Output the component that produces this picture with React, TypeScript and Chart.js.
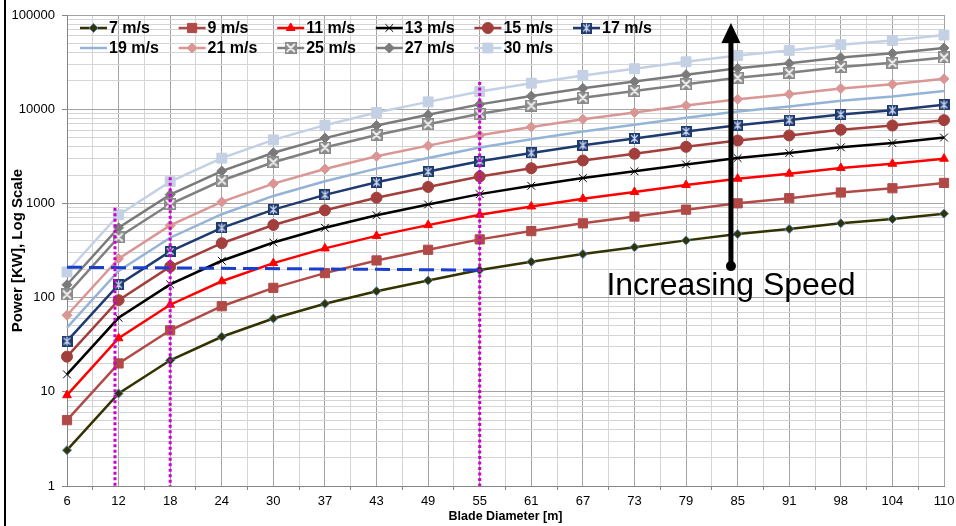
import React, { useEffect, useRef } from 'react';
import { Chart, registerables } from 'chart.js';
import { drawPoint } from 'chart.js/helpers';

Chart.register(...registerables);

// ---------- data ----------
const diameters = ['6', '12', '18', '24', '30', '37', '43', '49', '55', '61', '67', '73', '79', '85', '91', '98', '104', '110'];

const speedLabels = ['7 m/s', '9 m/s', '11 m/s', '13 m/s', '15 m/s', '17 m/s', '19 m/s', '21 m/s', '25 m/s', '27 m/s', '30 m/s'];

const power7 = [2.4, 9.6, 21.6, 38.4, 60, 86, 117, 152, 196, 240, 290, 342, 405, 473, 535, 615, 682, 778];
const power9 = [5.0, 20, 45, 81, 127, 182, 248, 322, 415, 508, 614, 725, 858, 1002, 1135, 1305, 1448, 1650];
const power11 = [9.2, 37, 84, 149, 232, 333, 452, 588, 757, 928, 1120, 1322, 1565, 1828, 2068, 2378, 2636, 2980];
const power13 = [15.3, 61, 138, 246, 384, 551, 749, 974, 1255, 1537, 1857, 2190, 2594, 3030, 3427, 3939, 4368, 5000];
const power15 = [23.6, 94, 213, 378, 590, 846, 1150, 1496, 1929, 2362, 2854, 3365, 3985, 4654, 5264, 6052, 6711, 7655];
const power17 = [34.5, 137, 309, 550, 859, 1232, 1675, 2177, 2807, 3437, 4153, 4897, 5800, 6773, 7661, 8807, 9766, 11141];
const power19 = [48, 192, 432, 768, 1200, 1720, 2340, 3040, 3920, 4800, 5800, 6840, 8100, 9460, 10700, 12300, 13640, 15560];
const power21 = [65, 259, 583, 1037, 1620, 2322, 3159, 4104, 5292, 6480, 7830, 9234, 10935, 12771, 14445, 16605, 18414, 21006];
const power25 = [108, 437, 984, 1749, 2733, 3917, 5329, 6924, 8928, 10932, 13210, 15578, 18448, 21545, 24369, 28013, 31065, 35438];
const power27 = [137, 551, 1240, 2204, 3444, 4936, 6716, 8725, 11250, 13776, 16646, 19631, 23247, 27150, 30709, 35301, 39147, 44657];
const power30 = [187, 756, 1700, 3022, 4722, 6768, 9208, 11962, 15425, 18888, 22823, 26915, 31874, 37225, 42105, 48401, 53673, 61229];

// horizontal dashed reference (from 6 m to 55 m)
const referenceLine = [210, null, null, null, null, null, null, null, 196, null, null, null, null, null, null, null, null, null];

// y-axis decades (labelled ticks)
const yDecades = [1, 10, 100, 1000, 10000, 100000];

// magenta dotted guides: position on the diameter axis (category index) and top value
const guideIndex = [0.93, 2, 8];
const guideTop = [900, 1900, 19500];

// "Increasing Speed" arrow
const arrowIndex = 12.87;
const arrowFrom = 216;
const arrowHeadBase = 50500;
const arrowTip = 82000;
const noteText = 'Increasing Speed';
const noteValue = 107;

const FONT = '"Liberation Sans", Arial, Helvetica, sans-serif';

function makeMarker(size: number, bg: string, fg: string, star: boolean): HTMLCanvasElement {
  const c = document.createElement('canvas');
  c.width = size;
  c.height = size;
  const g = c.getContext('2d')!;
  g.fillStyle = bg;
  g.fillRect(0, 0, size, size);
  g.strokeStyle = fg;
  g.lineWidth = star ? 1.3 : 2;
  g.lineCap = 'round';
  const p = 2.5;
  g.beginPath();
  g.moveTo(p, p);
  g.lineTo(size - p, size - p);
  g.moveTo(size - p, p);
  g.lineTo(p, size - p);
  if (star) {
    g.moveTo(size / 2, 1.5);
    g.lineTo(size / 2, size - 1.5);
  }
  g.stroke();
  return c;
}

export default function App() {
  const ref = useRef<HTMLCanvasElement | null>(null);

  useEffect(() => {
    document.body.style.margin = '0';
    const canvas = ref.current;
    if (!canvas) return;

    const marker17 = makeMarker(11, '#1f3a6e', '#c9d5ee', true);
    const marker25 = makeMarker(12, '#8a8a8a', '#f2f2f2', false);

    const series = [
      { label: speedLabels[0], data: power7, color: '#333300', bg: '#333300', pb: '#4f81bd', style: 'rectRot', r: 4.5, bw: 1 },
      { label: speedLabels[1], data: power9, color: '#b14a47', bg: '#b14a47', pb: '#b14a47', style: 'rect', r: 6.5, bw: 1 },
      { label: speedLabels[2], data: power11, color: '#ff0000', bg: '#ff0000', pb: '#ff0000', style: 'triangle', r: 5, bw: 1 },
      { label: speedLabels[3], data: power13, color: '#000000', bg: '#000000', pb: '#000000', style: 'crossRot', r: 5.5, bw: 1 },
      { label: speedLabels[4], data: power15, color: '#a23f3c', bg: '#a23f3c', pb: '#a23f3c', style: 'circle', r: 5.5, bw: 1 },
      { label: speedLabels[5], data: power17, color: '#1f3a6e', bg: '#1f3a6e', pb: '#1f3a6e', style: marker17, r: 5.5, bw: 1 },
      { label: speedLabels[6], data: power19, color: '#95b3d7', bg: '#95b3d7', pb: '#95b3d7', style: 'circle', r: 0, bw: 0 },
      { label: speedLabels[7], data: power21, color: '#d99694', bg: '#d99694', pb: '#d99694', style: 'rectRot', r: 5, bw: 1 },
      { label: speedLabels[8], data: power25, color: '#808080', bg: '#808080', pb: '#808080', style: marker25, r: 6, bw: 1 },
      { label: speedLabels[9], data: power27, color: '#7a7a7a', bg: '#7a7a7a', pb: '#7a7a7a', style: 'rectRot', r: 5, bw: 1 },
      { label: speedLabels[10], data: power30, color: '#c4d0e4', bg: '#c4d0e4', pb: '#c4d0e4', style: 'rect', r: 7, bw: 1 },
    ];

    const datasets: any[] = series.map((s) => ({
      label: s.label,
      data: s.data,
      borderColor: s.color,
      backgroundColor: s.bg,
      borderWidth: 2.5,
      pointStyle: s.style,
      pointRadius: s.r,
      pointHoverRadius: s.r,
      pointBackgroundColor: s.bg,
      pointBorderColor: s.pb,
      pointBorderWidth: s.bw,
      tension: 0,
      xAxisID: 'x',
      yAxisID: 'y',
    }));

    datasets.push({
      label: 'reference',
      data: referenceLine,
      borderColor: '#1a3fcf',
      borderWidth: 3,
      borderDash: [15, 7],
      pointRadius: 0,
      spanGaps: true,
      order: -1,
      xAxisID: 'x',
      yAxisID: 'y',
    });

    const isMajor = (v: number) => yDecades.some((d) => Math.abs(d - v) < 1e-9 * d);

    const legendPlugin = {
      id: 'gridLegend',
      afterDatasetsDraw(chart: any) {
        const { ctx, chartArea } = chart;
        ctx.save();
        const colW = 98.6;
        const rowH = 20;
        const x0 = chartArea.left + 13;
        const y0 = chartArea.top + 13;
        series.forEach((s, i) => {
          const col = i % 6;
          const row = Math.floor(i / 6);
          const x = x0 + col * colW;
          const y = y0 + row * rowH;
          ctx.beginPath();
          ctx.strokeStyle = s.color;
          ctx.lineWidth = 2.5;
          ctx.setLineDash([]);
          ctx.moveTo(x, y);
          ctx.lineTo(x + 27, y);
          ctx.stroke();
          if (s.r > 0) {
            ctx.fillStyle = s.bg;
            ctx.strokeStyle = s.pb;
            ctx.lineWidth = s.bw;
            drawPoint(ctx, { pointStyle: s.style, radius: s.r, borderWidth: s.bw, rotation: 0 } as any, x + 13.5, y);
          }
          ctx.fillStyle = '#000';
          ctx.font = 'bold 16px ' + FONT;
          ctx.textAlign = 'left';
          ctx.textBaseline = 'middle';
          ctx.fillText(s.label, x + 29, y + 1);
        });
        ctx.restore();
      },
    };

    const notesPlugin = {
      id: 'notes',
      afterDatasetsDraw(chart: any) {
        const { ctx } = chart;
        const xs = chart.scales.x;
        const ys = chart.scales.y;
        ctx.save();
        // magenta dotted guides
        ctx.strokeStyle = '#cc00cc';
        ctx.lineWidth = 3;
        ctx.setLineDash([3, 2.5]);
        guideIndex.forEach((gi, i) => {
          const px = xs.getPixelForValue(gi);
          ctx.beginPath();
          ctx.moveTo(px, ys.getPixelForValue(guideTop[i]));
          ctx.lineTo(px, ys.getPixelForValue(1));
          ctx.stroke();
        });
        ctx.setLineDash([]);
        // arrow
        const ax = xs.getPixelForValue(arrowIndex);
        const yFrom = ys.getPixelForValue(arrowFrom);
        const yBase = ys.getPixelForValue(arrowHeadBase);
        const yTip = ys.getPixelForValue(arrowTip);
        ctx.strokeStyle = '#000';
        ctx.fillStyle = '#000';
        ctx.lineWidth = 5;
        ctx.beginPath();
        ctx.moveTo(ax, yFrom);
        ctx.lineTo(ax, yBase);
        ctx.stroke();
        ctx.beginPath();
        ctx.moveTo(ax - 9.5, yBase);
        ctx.lineTo(ax + 9.5, yBase);
        ctx.lineTo(ax, yTip);
        ctx.closePath();
        ctx.fill();
        ctx.beginPath();
        ctx.arc(ax, yFrom, 5, 0, Math.PI * 2);
        ctx.fill();
        // note text
        ctx.font = '32px ' + FONT;
        ctx.textAlign = 'center';
        ctx.textBaseline = 'alphabetic';
        ctx.fillText(noteText, ax, ys.getPixelForValue(noteValue));
        ctx.restore();
      },
    };

    const chart = new Chart(canvas, {
      type: 'line',
      data: { labels: diameters, datasets },
      options: {
        animation: false,
        responsive: false,
        maintainAspectRatio: false,
        events: [],
        layout: { padding: { left: 0, right: 12, top: 15, bottom: 0 } },
        plugins: {
          legend: { display: false },
          tooltip: { enabled: false },
        },
        scales: {
          x: {
            type: 'category',
            offset: false,
            weight: 1,
            afterFit: (s: any) => {
              s.height = 40;
              s.paddingLeft = 0;
              s.paddingRight = 0;
            },
            grid: { color: '#a3a3a3', lineWidth: 1, drawTicks: false },
            border: { color: '#868686', width: 1 },
            ticks: {
              color: '#000',
              font: { family: FONT, size: 13 },
              padding: 8,
              maxRotation: 0,
              autoSkip: false,
            },
            title: {
              display: true,
              text: 'Blade Diameter [m]',
              color: '#000',
              font: { family: FONT, size: 12.5, weight: 'bold' },
              padding: { top: 0, bottom: 1.5 },
            },
          },
          xMinor: {
            type: 'linear',
            position: 'bottom',
            weight: 0,
            min: 0,
            max: diameters.length - 1,
            afterFit: (s: any) => {
              s.height = 0;
              s.paddingLeft = 0;
              s.paddingRight = 0;
            },
            afterBuildTicks: (s: any) => {
              const t: any[] = [];
              for (let i = 0; i < diameters.length - 1; i++) t.push({ value: i + 0.5 });
              s.ticks = t;
            },
            grid: { color: '#d4d4d4', lineWidth: 1, tickLength: 4, tickColor: '#868686' },
            border: { display: false },
            ticks: { display: false },
          },
          y: {
            type: 'logarithmic',
            min: 1,
            max: 100000,
            afterFit: (s: any) => {
              s.width = 67;
              s.paddingTop = 0;
              s.paddingBottom = 0;
            },
            afterBuildTicks: (s: any) => {
              const t: any[] = [];
              for (let k = 0; k < yDecades.length - 1; k++) {
                for (let m = 1; m <= 9; m++) t.push({ value: yDecades[k] * m });
              }
              t.push({ value: yDecades[yDecades.length - 1] });
              s.ticks = t;
            },
            grid: {
              color: (c: any) => (c.tick && isMajor(c.tick.value) ? '#a3a3a3' : '#d4d4d4'),
              tickColor: (c: any) => (c.tick && isMajor(c.tick.value) ? '#868686' : 'rgba(0,0,0,0)'),
              tickLength: 5,
              lineWidth: 1,
            },
            border: { color: '#868686', width: 1 },
            ticks: {
              color: '#000',
              font: { family: FONT, size: 13 },
              padding: 7,
              autoSkip: false,
              callback: (v: any) => (isMajor(Number(v)) ? String(v) : ''),
            },
            title: {
              display: true,
              text: 'Power [KW], Log Scale',
              color: '#000',
              font: { family: FONT, size: 15, weight: 'bold' },
              padding: { top: 9, bottom: 0 },
            },
          },
        },
      } as any,
      plugins: [notesPlugin, legendPlugin],
    });

    return () => {
      chart.destroy();
    };
  }, []);

  return (
    <div style={{ position: 'fixed', left: 0, top: 0, width: 956, height: 526, background: '#fff' }}>
      <div style={{ position: 'absolute', left: 4, top: 0, width: 2, height: 526, background: '#000' }} />
      <canvas ref={ref} width={956} height={526} style={{ display: 'block' }} />
    </div>
  );
}
